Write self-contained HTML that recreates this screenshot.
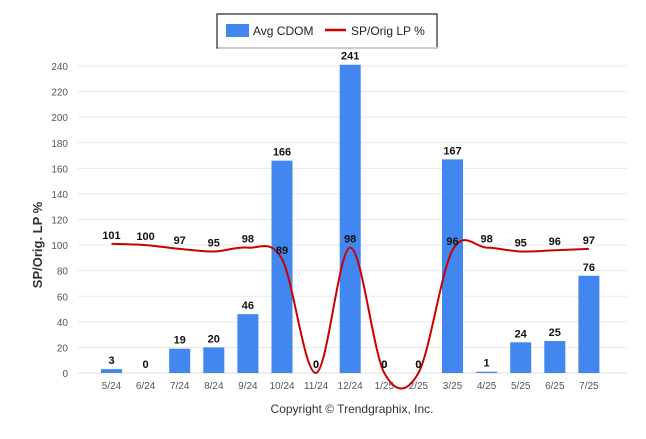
<!DOCTYPE html>
<html><head><meta charset="utf-8"><style>
body{margin:0;background:#fff;font-family:"Liberation Sans",sans-serif}
svg text{font-family:"Liberation Sans",sans-serif}
</style></head><body>
<svg width="646" height="434" xmlns="http://www.w3.org/2000/svg">
<g>
<rect x="217" y="14" width="220" height="34" fill="#fff" stroke="#223" stroke-width="1.2"/>
<rect x="218" y="47" width="220" height="2" fill="#ccc"/>
<rect x="226" y="24" width="23" height="13" fill="#4286f0"/>
<text x="253" y="35" font-size="12" fill="#222">Avg CDOM</text>
<line x1="325" y1="30" x2="346" y2="30" stroke="#c00" stroke-width="2.5"/>
<text x="351" y="35" font-size="12" fill="#222">SP/Orig LP %</text>
</g>
<text transform="translate(42,245) rotate(-90)" text-anchor="middle" font-size="13" font-weight="bold" fill="#333">SP/Orig. LP %</text>
<g id="grid"></g><g id="bars"></g><g id="line"></g><g id="labels"></g>
<text x="352" y="413" text-anchor="middle" font-size="12" fill="#333">Copyright © Trendgraphix, Inc.</text>
</svg>
<script>
const categories=["5/24","6/24","7/24","8/24","9/24","10/24","11/24","12/24","1/25","2/25","3/25","4/25","5/25","6/25","7/25"];
const cdom=[3,0,19,20,46,166,0,241,0,0,167,1,24,25,76];
const spPct=[101,100,97,95,98,89,0,98,0,0,96,98,95,96,97];
const yTicks=[0,20,40,60,80,100,120,140,160,180,200,220,240];
const NS="http://www.w3.org/2000/svg";
const y=v=>373-v*(307/240);
const x=i=>111.5+i*34.1;
function mk(t,a,p){const e=document.createElementNS(NS,t);for(const k in a)e.setAttribute(k,a[k]);p.appendChild(e);return e;}
const G=document.getElementById('grid'),B=document.getElementById('bars'),L=document.getElementById('line'),T=document.getElementById('labels');
yTicks.forEach(v=>{
 const l=mk('line',{x1:78,x2:627,y1:y(v),y2:y(v),stroke:v?'#e8e8e8':'#ddd','stroke-width':1},G);
 
 
 const t=mk('text',{x:68,y:y(v)+4,'text-anchor':'end','font-size':10,fill:'#555'},G);t.textContent=v;
 
 
});
categories.forEach((c,i)=>{
 const t=mk('text',{x:x(i),y:389,'text-anchor':'middle','font-size':10,fill:'#555'},G);t.textContent=c;
 
 
 const r=mk('rect',{x:x(i)-10.5,y:y(cdom[i]),width:21,height:373-y(cdom[i]),fill:'#4286f0'},B);
 
 
 const bt=mk('text',{x:x(i),y:y(cdom[i])-5,'text-anchor':'middle','font-size':11,'font-weight':'bold',fill:'#111'},T);bt.textContent=cdom[i];
 
 
 const lt=mk('text',{x:x(i),y:y(spPct[i])-5,'text-anchor':'middle','font-size':11,'font-weight':'bold',fill:'#111'},T);lt.textContent=spPct[i];
 
 
});
const pts=spPct.map((v,i)=>[x(i),y(v)]);
let d='M'+pts[0][0]+','+pts[0][1];
for(let i=0;i<pts.length-1;i++){
 const p0=pts[Math.max(0,i-1)],p1=pts[i],p2=pts[i+1],p3=pts[Math.min(pts.length-1,i+2)];
 const c1=[p1[0]+(p2[0]-p0[0])/6,p1[1]+(p2[1]-p0[1])/6],c2=[p2[0]-(p3[0]-p1[0])/6,p2[1]-(p3[1]-p1[1])/6];
 d+=` C${c1[0]},${c1[1]} ${c2[0]},${c2[1]} ${p2[0]},${p2[1]}`;
}
const path=mk('path',{d:d,fill:'none',stroke:'#c00','stroke-width':2},L);


</script>
</body></html>
